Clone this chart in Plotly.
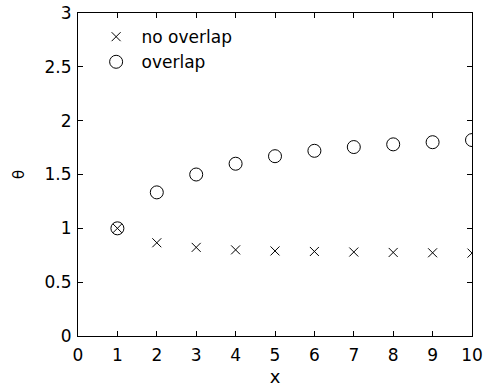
import plotly.graph_objects as go

x_vals = [1, 2, 3, 4, 5, 6, 7, 8, 9, 10]
no_overlap = [1.0, 0.866, 0.823, 0.80, 0.79, 0.785, 0.78, 0.776, 0.773, 0.77]
overlap = [1.0, 1.334, 1.50, 1.60, 1.67, 1.72, 1.755, 1.78, 1.80, 1.82]

x_ticks = list(range(0, 11))
y_ticks = [0, 0.5, 1, 1.5, 2, 2.5, 3]
y_tick_text = ["0", "0.5", "1", "1.5", "2", "2.5", "3"]

font = dict(family="DejaVu Sans, Liberation Sans, sans-serif", size=17, color="black")
title_font = dict(family="DejaVu Sans, Liberation Sans, sans-serif", size=18, color="black")
theta_font = dict(family="DejaVu Sans, Liberation Sans, sans-serif", size=15, color="black")

fig = go.Figure()
fig.add_trace(go.Scatter(
    x=x_vals, y=no_overlap, mode="markers", name=" no overlap",
    marker=dict(symbol="x-thin-open", size=9, color="black", line=dict(width=1, color="black")),
))
fig.add_trace(go.Scatter(
    x=x_vals, y=overlap, mode="markers", name=" overlap",
    marker=dict(symbol="circle-open", size=13, color="black", line=dict(width=1, color="black")),
))

axis_common = dict(
    showline=True, linecolor="black", linewidth=1, mirror="ticks",
    ticks="inside", ticklen=5, tickcolor="black", tickwidth=1,
    showgrid=False, zeroline=False, tickfont=font, automargin=False,
)

fig.update_layout(
    width=484, height=387,
    margin=dict(l=78, r=12, t=13, b=51, autoexpand=False),
    paper_bgcolor="white", plot_bgcolor="white",
    font=font,
    xaxis=dict(range=[0, 10], tickvals=x_ticks, ticklabelstandoff=4,
               title=dict(text="x", font=title_font, standoff=9), **axis_common),
    yaxis=dict(range=[0, 3], tickvals=y_ticks, ticktext=y_tick_text, ticklabelstandoff=2,
               title=dict(text="θ", font=theta_font, standoff=16), **axis_common),
    legend=dict(x=0.046, y=0.981, xanchor="left", yanchor="top",
                bgcolor="rgba(0,0,0,0)", borderwidth=0, font=font,
                itemsizing="trace", tracegroupgap=0),
    showlegend=True,
)

fig.write_html("out.html")
